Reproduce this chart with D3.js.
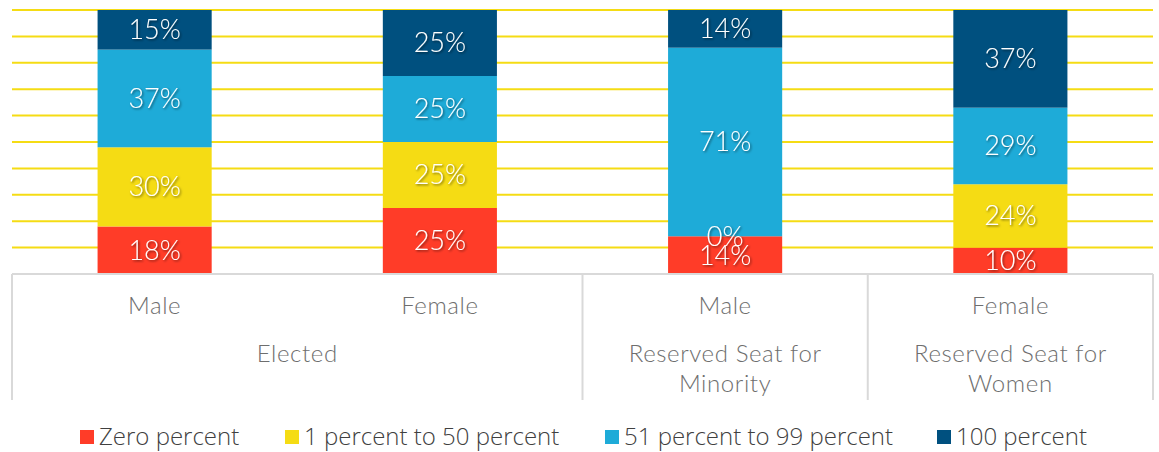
<!DOCTYPE html>
<html>
<head>
<meta charset="utf-8">
<script src="https://cdn.jsdelivr.net/npm/d3@7"></script>
<style>
  html, body { margin: 0; padding: 0; background: #fff; }
  svg { display: block; }
</style>
</head>
<body>
<div id="chart"></div>
<script>
// categories (two-level axis)
const genders = ['Male', 'Female', 'Male', 'Female'];
const groups = [
    { name: ['Elected'], from: 0, to: 1 },
    { name: ['Reserved Seat for', 'Minority'], from: 2, to: 2 },
    { name: ['Reserved Seat for', 'Women'], from: 3, to: 3 }
];

// series values, percent of each bar
const seriesNames = ['Zero percent', '1 percent to 50 percent', '51 percent to 99 percent', '100 percent'];
const zeroPercent = [18, 25, 14.29, 10];
const upTo50 = [30, 25, 0, 24];
const upTo99 = [37, 25, 71.43, 29];
const full100 = [15, 25, 14.29, 37];
const seriesColors = ['#ff3c28', '#f5dc14', '#1eabd8', '#00507f'];

const yTicks = d3.range(0, 101, 10);

const width = 1159, height = 452;
const plot = { left: 12, right: 1153, top: 10, bottom: 274 };
const axisBottom = 400;

const svg = d3.select('#chart').append('svg')
    .attr('width', width)
    .attr('height', height);

const defs = svg.append('defs');
const shadow = defs.append('filter')
    .attr('id', 'shadow')
    .attr('x', '-20%').attr('y', '-20%')
    .attr('width', '140%').attr('height', '140%');
shadow.append('feDropShadow')
    .attr('dx', 1.2).attr('dy', 1.2)
    .attr('stdDeviation', 0.9)
    .attr('flood-color', '#000')
    .attr('flood-opacity', 0.55);

const x = d3.scaleBand()
    .domain(d3.range(genders.length))
    .range([plot.left, plot.right])
    .paddingInner(0.6)
    .paddingOuter(0.3);

const y = d3.scaleLinear()
    .domain([0, 100])
    .range([plot.bottom, plot.top]);

// gridlines
svg.append('g')
    .selectAll('line')
    .data(yTicks.filter(d => d > 0))
    .join('line')
    .attr('x1', plot.left)
    .attr('x2', plot.right)
    .attr('y1', d => y(d))
    .attr('y2', d => y(d))
    .attr('stroke', '#f5dc14')
    .attr('stroke-width', 2);

// stack
const rows = genders.map((g, i) => ({
    i: i,
    s0: zeroPercent[i],
    s1: upTo50[i],
    s2: upTo99[i],
    s3: full100[i]
}));
const stack = d3.stack().keys(['s0', 's1', 's2', 's3'])(rows);

const layers = svg.append('g')
    .selectAll('g')
    .data(stack)
    .join('g')
    .attr('fill', (d, i) => seriesColors[i]);

layers.selectAll('rect')
    .data(d => d)
    .join('rect')
    .attr('x', d => x(d.data.i))
    .attr('width', x.bandwidth())
    .attr('y', d => y(d[1]))
    .attr('height', d => y(d[0]) - y(d[1]));

// data labels
const labels = svg.append('g')
    .attr('font-family', 'Lato, sans-serif')
    .attr('font-weight', 300)
    .attr('font-size', 27)
    .attr('fill', '#fff')
    .attr('text-anchor', 'middle')
    .attr('filter', 'url(#shadow)');

stack.forEach(layer => {
    labels.selectAll(null)
        .data(layer)
        .join('text')
        .attr('x', d => x(d.data.i) + x.bandwidth() / 2)
        .attr('y', d => y((d[0] + d[1]) / 2))
        .attr('dy', '0.35em')
        .text(d => Math.round(d[1] - d[0]) + '%');
});

// category axis box
const axis = svg.append('g')
    .attr('stroke', '#d9d9d9')
    .attr('stroke-width', 2);

axis.append('line')
    .attr('x1', plot.left).attr('x2', plot.right)
    .attr('y1', plot.bottom).attr('y2', plot.bottom);

const dividers = [plot.left].concat(groups.map(g => x(g.to) + x.bandwidth() + x.step() * x.paddingInner() / 2));
dividers[dividers.length - 1] = plot.right;
axis.selectAll('line.div')
    .data(dividers)
    .join('line')
    .attr('class', 'div')
    .attr('x1', d => d).attr('x2', d => d)
    .attr('y1', plot.bottom).attr('y2', axisBottom);

const catText = svg.append('g')
    .attr('font-family', 'Lato, sans-serif')
    .attr('font-weight', 300)
    .attr('font-size', 24)
    .attr('letter-spacing', 0.6)
    .attr('fill', '#6e6e6e')
    .attr('text-anchor', 'middle');

catText.selectAll('text.gender')
    .data(genders)
    .join('text')
    .attr('class', 'gender')
    .attr('x', (d, i) => x(i) + x.bandwidth() / 2)
    .attr('y', 306)
    .attr('dy', '0.35em')
    .text(d => d);

groups.forEach(g => {
    const cx = (x(g.from) + x(g.to) + x.bandwidth()) / 2;
    const t = catText.append('text')
        .attr('x', cx)
        .attr('y', 354)
        .attr('dy', '0.35em');
    g.name.forEach((line, k) => {
        t.append('tspan')
            .attr('x', cx)
            .attr('dy', k === 0 ? '0.35em' : 30)
            .text(line);
    });
});

// legend
const legendX = [80, 285, 605, 937];
const legend = svg.append('g')
    .attr('font-family', '"Open Sans", sans-serif')
    .attr('font-weight', 300)
    .attr('font-size', 24)
    .attr('fill', '#404040');

const items = legend.selectAll('g')
    .data(seriesNames)
    .join('g')
    .attr('transform', (d, i) => `translate(${legendX[i]},437)`);

items.append('rect')
    .attr('x', 0).attr('y', -7)
    .attr('width', 14).attr('height', 14)
    .attr('fill', (d, i) => seriesColors[i]);

items.append('text')
    .attr('x', 19)
    .attr('dy', '0.35em')
    .text(d => d);
</script>
</body>
</html>
